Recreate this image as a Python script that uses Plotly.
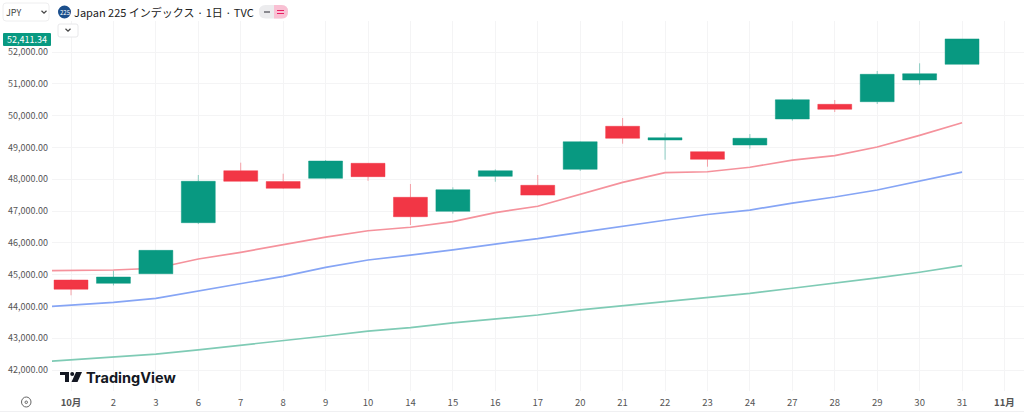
import plotly.graph_objects as go

# trading days, index 0 is 1 Oct, the last tick is the start of Nov
tick_labels = ["<b>10月</b>", "2", "3", "6", "7", "8", "9", "10", "14", "15", "16", "17",
               "20", "21", "22", "23", "24", "27", "28", "29", "30", "31", "<b>11月</b>"]

days = list(range(22))
opens = [44830, 44726, 45028, 46632, 48267, 47925, 48028, 48500, 47431, 46990, 48090,
         47808, 48310, 49664, 49233, 48865, 49075, 49893, 50355, 50437, 51120, 51613]
highs = [44850, 45120, 45770, 48132, 48520, 48173, 48600, 48510, 47849, 47745, 48310,
         48132, 49190, 49925, 49443, 48870, 49421, 50544, 50490, 51403, 51645, 52411]
lows = [44350, 44660, 45020, 46590, 47930, 47700, 48000, 47950, 46560, 46915, 47920,
        47490, 48258, 49116, 48613, 48393, 48960, 49840, 50113, 50365, 50972, 51613]
closes = [44540, 44924, 45763, 47934, 47934, 47714, 48572, 48080, 46820, 47670, 48267,
          47500, 49179, 49286, 49305, 48626, 49286, 50500, 50198, 51299, 51318, 52411.34]

# moving averages, first point is the day before the window so the line runs off the left edge
ma_days = list(range(-1, 22))
ma_short = [45120, 45135, 45145, 45200, 45490, 45700, 45930, 46180, 46380, 46490, 46665, 46950,
            47150, 47535, 47900, 48205, 48235, 48375, 48600, 48740, 49013, 49380, 49777]
ma_mid = [43950, 44035, 44130, 44255, 44485, 44726, 44947, 45230, 45460, 45615, 45775, 45960,
          46130, 46330, 46530, 46710, 46890, 47030, 47250, 47440, 47660, 47935, 48225]
ma_long = [42230, 42320, 42405, 42500, 42635, 42775, 42920, 43070, 43225, 43335, 43480, 43605,
           43730, 43890, 44015, 44140, 44265, 44410, 44570, 44725, 44900, 45075, 45280]

W, H = 1024, 413
L, T, B = 52, 21, 22
FONT = "Noto Sans CJK JP"


# pixel position in the page -> paper coordinates of the plot area
def xp(px):
    return (px - L) / (W - L)


def yp(py):
    return (H - B - py) / (H - B - T)


fig = go.Figure()
fig.add_trace(go.Scatter(x=ma_days, y=ma_long, mode="lines", line=dict(color="#7fcbb5", width=1.7)))
fig.add_trace(go.Scatter(x=ma_days, y=ma_mid, mode="lines", line=dict(color="#86a5f5", width=1.7)))
fig.add_trace(go.Scatter(x=ma_days, y=ma_short, mode="lines", line=dict(color="#f5929c", width=1.7)))
fig.add_trace(go.Candlestick(
    x=days, open=opens, high=highs, low=lows, close=closes, zorder=1,
    whiskerwidth=0,
    increasing=dict(fillcolor="#089981", line=dict(color="rgba(8,153,129,0.45)", width=1)),
    decreasing=dict(fillcolor="#f23645", line=dict(color="rgba(242,54,69,0.45)", width=1)),
))

fig.update_layout(
    width=W, height=H, autosize=False,
    margin=dict(l=L, r=0, t=T, b=B),
    paper_bgcolor="white", plot_bgcolor="white",
    showlegend=False, boxgap=0.2, boxgroupgap=0,
    font=dict(family=FONT, color="#555"),
    xaxis=dict(
        range=[-0.448, 22.46], tickmode="array", tickvals=list(range(23)), ticktext=tick_labels,
        showgrid=True, gridcolor="#f4f4f5", gridwidth=1, zeroline=False, showline=False,
        rangeslider=dict(visible=False), tickfont=dict(size=9.5, color="#555"), ticks="",
        tickangle=0, ticklabelstandoff=4,
    ),
    yaxis=dict(
        range=[41340, 52975], tick0=42000, dtick=1000, tickformat=",.2f",
        showgrid=True, gridcolor="#f4f4f5", gridwidth=1, zeroline=False, showline=False,
        tickfont=dict(size=9, color="#555"), ticks="", ticklabelstandoff=3,
    ),
)


def round_path(x0, y0, x1, y1, r):
    return (f"M {xp(x0 + r)} {yp(y0)} L {xp(x1 - r)} {yp(y0)} Q {xp(x1)} {yp(y0)} {xp(x1)} {yp(y0 + r)} "
            f"L {xp(x1)} {yp(y1 - r)} Q {xp(x1)} {yp(y1)} {xp(x1 - r)} {yp(y1)} "
            f"L {xp(x0 + r)} {yp(y1)} Q {xp(x0)} {yp(y1)} {xp(x0)} {yp(y1 - r)} "
            f"L {xp(x0)} {yp(y0 + r)} Q {xp(x0)} {yp(y0)} {xp(x0 + r)} {yp(y0)} Z")


def rect(x0, y0, x1, y1, r=0, **kw):
    fig.add_shape(type="path", xref="paper", yref="paper", path=round_path(x0, y0, x1, y1, r), **kw)


def label(px, py, text, size, color="#333", family=FONT, anchor="center"):
    fig.add_annotation(xref="paper", yref="paper", x=xp(px), y=yp(py), text=text, showarrow=False,
                       xanchor=anchor, yanchor="middle", font=dict(size=size, color=color, family=family),
                       borderpad=0, borderwidth=0)


def chevron(px, py, size=2.5, color="#444"):
    path = f"M {xp(px - size)} {yp(py - size / 2)} L {xp(px)} {yp(py + size / 2)} L {xp(px + size)} {yp(py - size / 2)}"
    fig.add_shape(type="path", xref="paper", yref="paper", path=path, line=dict(color=color, width=1.2))


# top strip: currency select, symbol title, status pills
rect(3, 3, 49, 21, 3, fillcolor="white", line=dict(color="#eeeeef", width=1))
label(6, 12, "JPY", 9, "#444", anchor="left")
chevron(44, 12)
rect(58, 24, 78, 37, 2, fillcolor="white", line=dict(color="#e8e8ea", width=1))
chevron(68, 30, 2.5)

fig.add_shape(type="circle", xref="paper", yref="paper", x0=xp(58), x1=xp(71), y0=yp(5.5), y1=yp(18.5),
              fillcolor="#1c4f8c", line=dict(width=0))
label(64.5, 12, "225", 6, "white")
label(74, 12, "Japan 225 インデックス · 1日 · TVC", 11, "#222", anchor="left")

rect(259, 5, 288, 18.5, 6.5, fillcolor="#ececee", line=dict(width=0))
fig.add_shape(type="path", xref="paper", yref="paper",
              path=(f"M {xp(274)} {yp(5)} L {xp(281.5)} {yp(5)} Q {xp(288)} {yp(5)} {xp(288)} {yp(11.7)} "
                    f"Q {xp(288)} {yp(18.5)} {xp(281.5)} {yp(18.5)} L {xp(274)} {yp(18.5)} Z"),
              fillcolor="#f9c0d3", line=dict(width=0))
rect(264, 11, 270, 13, fillcolor="#8a8a90", line=dict(width=0))
rect(277, 10, 284, 11, fillcolor="#e91e63", line=dict(width=0))
rect(277, 13, 284, 14, fillcolor="#e91e63", line=dict(width=0))

# last price tag on the price scale
rect(3, 33, 51, 46, 1, fillcolor="#089981", line=dict(width=0))
label(27, 39.5, "52,411.34", 9, "white")

# watermark
rect(60, 372, 69, 375, fillcolor="#131722", line=dict(width=0))
rect(65, 372, 69, 382, fillcolor="#131722", line=dict(width=0))
fig.add_shape(type="path", xref="paper", yref="paper",
              path=f"M {xp(76)} {yp(372)} L {xp(82)} {yp(372)} L {xp(77.5)} {yp(382)} L {xp(71.5)} {yp(382)} Z",
              fillcolor="#131722", line=dict(width=0))
fig.add_shape(type="circle", xref="paper", yref="paper", x0=xp(70.2), x1=xp(74.2), y0=yp(372), y1=yp(376),
              fillcolor="#131722", line=dict(width=0))
label(86, 377, "<b>TradingView</b>", 14.5, "#131722", "Inter", "left")

# settings icon at the corner of the scales, bottom border of the widget
fig.add_shape(type="circle", xref="paper", yref="paper", x0=xp(21.5), x1=xp(31), y0=yp(397), y1=yp(407),
              line=dict(color="#666", width=1))
fig.add_shape(type="circle", xref="paper", yref="paper", x0=xp(25), x1=xp(27.5), y0=yp(401), y1=yp(403.5),
              line=dict(color="#666", width=1))
rect(0, 411, 1024, 412, fillcolor="#f0f0f2", line=dict(width=0))

fig.write_html("out.html", config=dict(displayModeBar=False), post_script="document.body.style.margin='0';")
